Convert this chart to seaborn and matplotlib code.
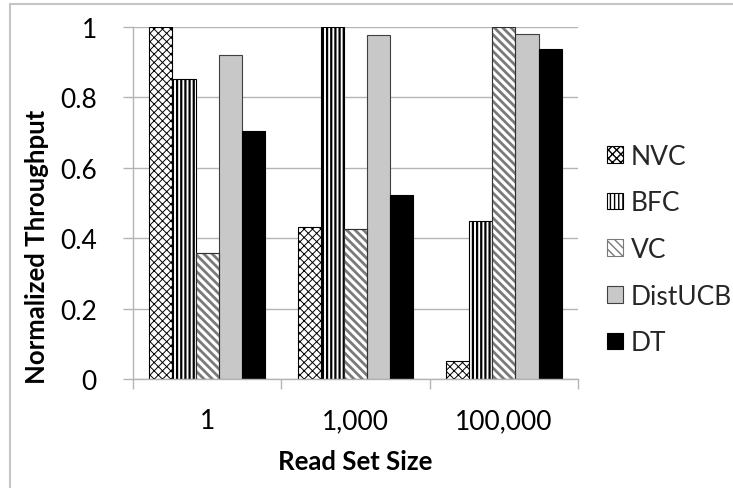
import matplotlib
matplotlib.use("Agg")
import matplotlib.pyplot as plt
import seaborn as sns
import pandas as pd
from matplotlib.patches import Rectangle
from matplotlib.lines import Line2D

# ---- data ----
categories = ["1", "1,000", "100,000"]
series = ["NVC", "BFC", "VC", "DistUCB", "DT"]
nvc = [1.0, 0.433, 0.051]
bfc = [0.852, 1.0, 0.45]
vc = [0.358, 0.427, 1.0]
distucb = [0.92, 0.977, 0.98]
dt = [0.704, 0.524, 0.937]
yticks = [0, 0.2, 0.4, 0.6, 0.8, 1.0]
ytick_labels = ["0", "0.2", "0.4", "0.6", "0.8", "1"]

values = {"NVC": nvc, "BFC": bfc, "VC": vc, "DistUCB": distucb, "DT": dt}
rows = []
for s in series:
    for c, v in zip(categories, values[s]):
        rows.append({"size": c, "series": s, "value": v})
df = pd.DataFrame(rows)

sns.set_theme(style="white")
plt.rcParams["font.family"] = ["Lato", "DejaVu Sans"]
plt.rcParams["hatch.linewidth"] = 1.0

fig = plt.figure(figsize=(7.33, 4.89), dpi=100)
W, H = 733, 489
ax = fig.add_axes([133 / W, 1 - 380 / H, (578 - 133) / W, (380 - 28) / H])

palette = {"NVC": "white", "BFC": "white", "VC": "white", "DistUCB": "#c8c8c8", "DT": "black"}
sns.barplot(data=df, x="size", y="value", hue="series", order=categories,
            hue_order=series, palette=palette, width=0.78, gap=0,
            edgecolor="black", linewidth=0.8, saturation=1, legend=False, ax=ax)

styles = {
    "NVC": dict(hatch="xxxx", hlw=0.7, edge="black"),
    "BFC": dict(hatch="||||", hlw=1.6, edge="black"),
    "VC": dict(hatch="\\\\\\\\", hlw=2.0, edge="#7a7a7a"),
    "DistUCB": dict(hatch=None, hlw=1.0, edge="#404040"),
    "DT": dict(hatch=None, hlw=1.0, edge="black"),
}
handles = []
for name, cont in zip(series, ax.containers):
    st = styles[name]
    for p in cont.patches:
        if st["hatch"]:
            p.set_hatch(st["hatch"])
        p.set_edgecolor(st["edge"])
        if hasattr(p, "set_hatch_linewidth"):
            p.set_hatch_linewidth(st["hlw"])
        if name == "VC":
            ax.add_patch(Rectangle(p.get_xy(), p.get_width(), p.get_height(),
                                   fill=False, edgecolor="#303030", linewidth=0.8, zorder=p.get_zorder() + 0.1))
    handles.append(cont.patches[0])

ax.set_ylim(0, 1)
ax.set_xlim(-0.5, 2.5)
ax.set_yticks(yticks)
ax.set_yticklabels(ytick_labels)
ax.set_xticks(range(len(categories)))
ax.set_xticklabels(categories)
ax.set_xticks([-0.5, 0.5, 1.5, 2.5], minor=True)

gridc = "#b4b4b4"
ax.yaxis.grid(True, color=gridc, linewidth=1.0)
ax.xaxis.grid(False)
ax.set_axisbelow(True)
for s in ["top", "right"]:
    ax.spines[s].set_visible(False)
for s in ["left", "bottom"]:
    ax.spines[s].set_color(gridc)
    ax.spines[s].set_linewidth(1.0)

ax.tick_params(axis="y", which="major", length=7, width=1, color=gridc, direction="out",
               labelsize=19, pad=19, labelcolor="black", left=True)
ax.tick_params(axis="x", which="major", length=0, labelsize=19, pad=21, labelcolor="black")
ax.tick_params(axis="x", which="minor", length=7, width=1, color=gridc, direction="out", bottom=True)

ax.set_xlabel("Read Set Size", fontsize=18.5, fontweight="bold", color="black")
ax.set_ylabel("Normalized Throughput", fontsize=18.5, fontweight="bold", color="black")
ax.xaxis.set_label_coords((355 - 133) / (578 - 133), (380 - 462) / (380 - 28))
ax.yaxis.set_label_coords((37 - 133) / (578 - 133), (380 - 247) / (380 - 28))
ax.xaxis.label.set_va("center")
ax.yaxis.label.set_va("center")

leg = fig.legend(handles, series, loc="center left",
                 bbox_to_anchor=(607 / W, 1 - 250.5 / H), frameon=False,
                 fontsize=19, handlelength=0.6, handleheight=0.6, handletextpad=0.3,
                 labelspacing=0.82, borderpad=0, borderaxespad=0)

# chart-area border (top and left visible)
bc = "#c4c4c4"
fig.add_artist(Line2D([10 / W, 1], [1 - 5 / H, 1 - 5 / H], color=bc, linewidth=1.5, transform=fig.transFigure))
fig.add_artist(Line2D([10 / W, 10 / W], [0, 1 - 5 / H], color=bc, linewidth=1.5, transform=fig.transFigure))

fig.savefig("out.png", dpi=100)
